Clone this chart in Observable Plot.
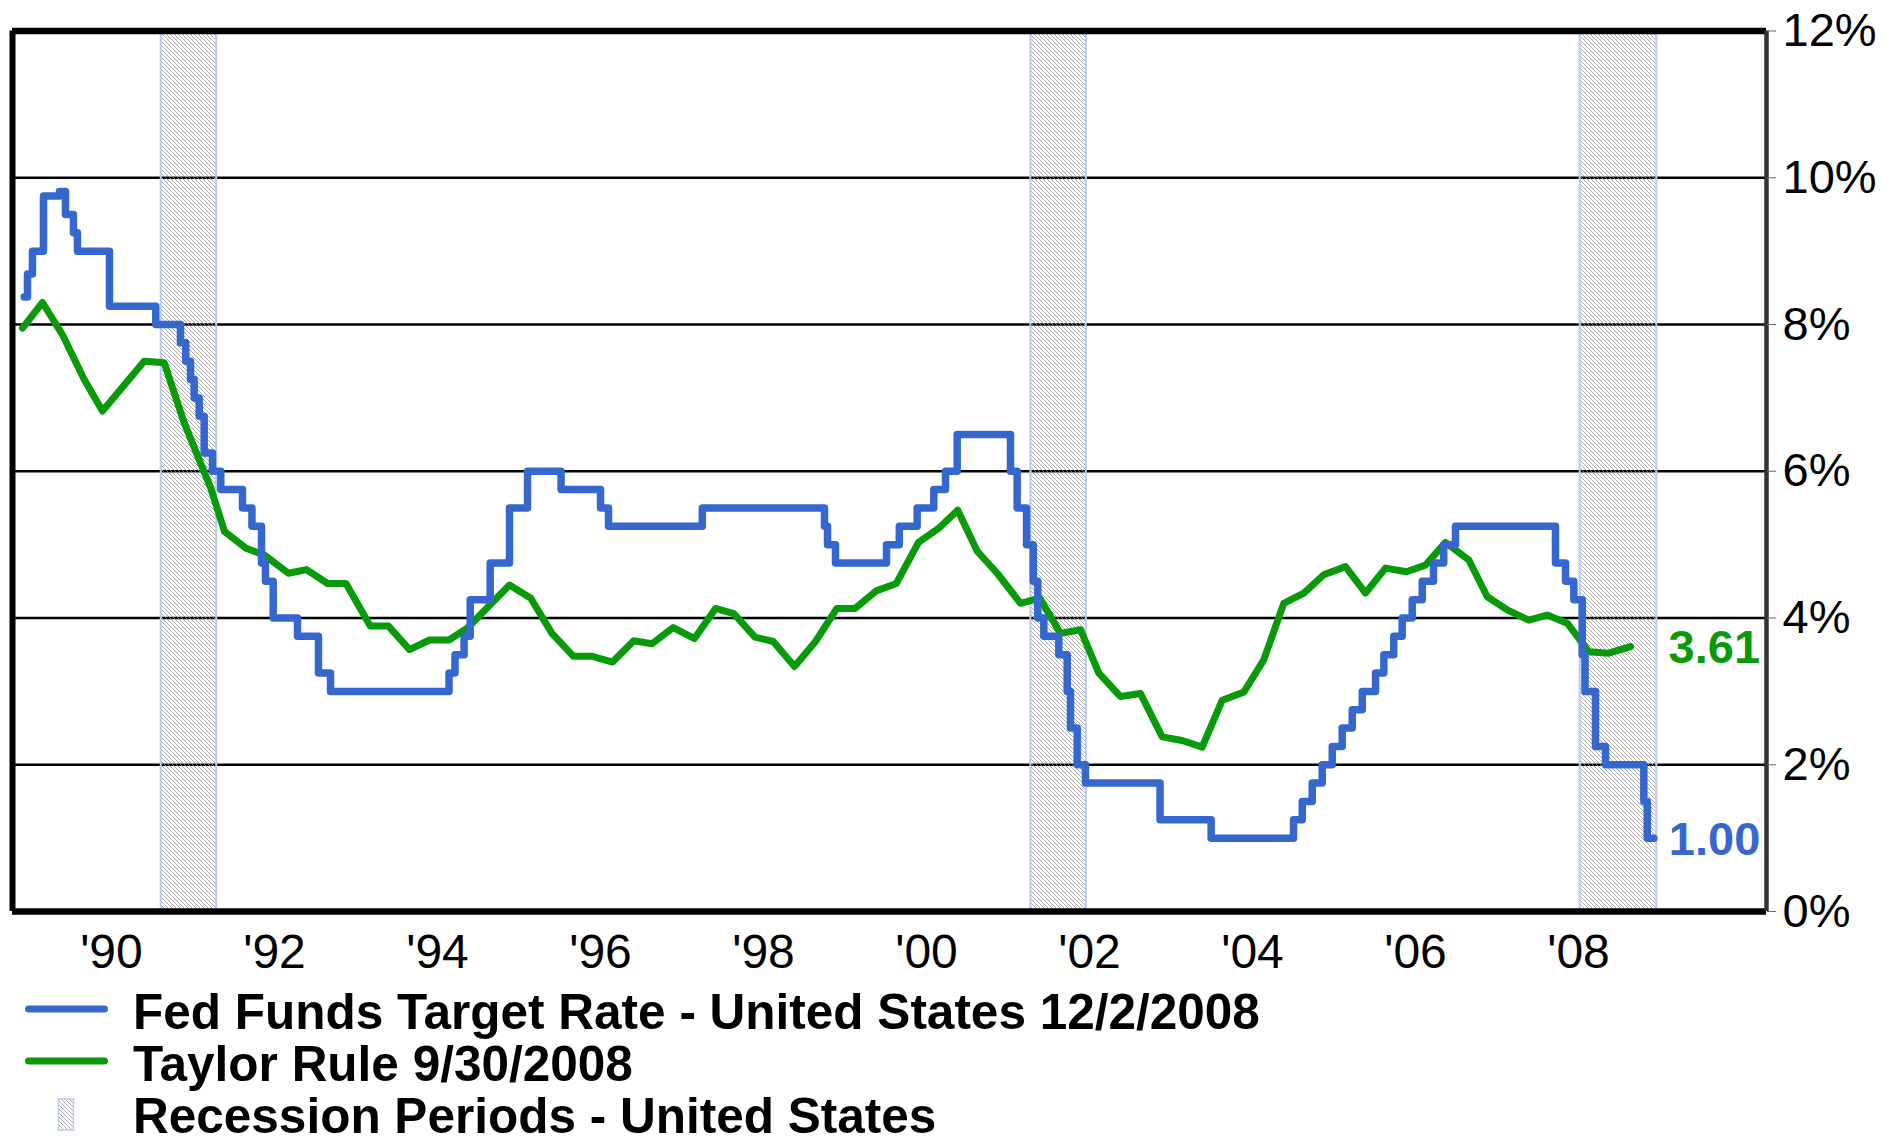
<!DOCTYPE html>
<html>
<head>
<meta charset="utf-8">
<script src="https://cdn.jsdelivr.net/npm/d3@7"></script>
<script src="https://cdn.jsdelivr.net/npm/@observablehq/plot@0.6"></script>
<style>
html, body { margin: 0; padding: 0; background: #fff; overflow: hidden; }
body { font-family: "Liberation Sans", Arial, sans-serif; width: 1900px; height: 1144px; }
#chart svg { display: block; }
.legend { position: relative; width: 1900px; }
.row { position: relative; height: 52px; font-size: 49.5px; font-weight: bold; color: #000; }
.row span { position: absolute; left: 133px; top: 1.85px; line-height: 44px; white-space: nowrap; }
.row svg { position: absolute; left: 0; }
</style>
</head>
<body>
<div id="chart"></div>
<div class="legend" id="legend"></div>
<script>
// ---- Data ----
// Fed Funds Target Rate: change points (decimal year, rate %)
const fedYears = [1988.818, 1988.859, 1988.920, 1989.055, 1989.252, 1989.325, 1989.423, 1989.472,
  1989.865, 1990.433, 1990.736, 1990.801, 1990.859, 1990.904, 1990.966, 1991.027, 1991.129, 1991.231,
  1991.497, 1991.613, 1991.730, 1991.779, 1991.874, 1992.172, 1992.429, 1992.577, 1994.031, 1994.104,
  1994.216, 1994.291, 1994.536, 1994.773, 1994.994, 1995.406, 1995.890, 1995.988, 1997.139, 1998.638,
  1998.675, 1998.773, 1999.399, 1999.556, 1999.775, 1999.979, 2000.123, 2000.266, 2000.920, 2001.002,
  2001.117, 2001.199, 2001.255, 2001.329, 2001.513, 2001.616, 2001.656, 2001.739, 2001.840, 2002.755,
  2003.382, 2004.393, 2004.500, 2004.622, 2004.745, 2004.868, 2004.990, 2005.113, 2005.236, 2005.399,
  2005.501, 2005.623, 2005.726, 2005.849, 2005.972, 2006.110, 2006.236, 2006.380, 2007.607, 2007.730,
  2007.832, 2007.935, 2007.969, 2008.098, 2008.221, 2008.691, 2008.733, 2008.814];
const fedRates = [8.375, 8.6875, 9.0, 9.75, 9.8125, 9.5, 9.25, 9.0,
  8.25, 8.0, 7.75, 7.5, 7.25, 7.0, 6.75, 6.25, 6.0, 5.75,
  5.5, 5.25, 4.75, 4.5, 4.0, 3.75, 3.25, 3.0, 3.25, 3.5,
  3.75, 4.25, 4.75, 5.5, 6.0, 5.75, 5.5, 5.25, 5.5, 5.25,
  5.0, 4.75, 5.0, 5.25, 5.5, 5.75, 6.0, 6.5, 6.0, 5.5,
  5.0, 4.5, 4.0, 3.75, 3.5, 3.0, 2.5, 2.0, 1.75, 1.25,
  1.0, 1.25, 1.5, 1.75, 2.0, 2.25, 2.5, 2.75, 3.0, 3.25,
  3.5, 3.75, 4.0, 4.25, 4.5, 4.75, 5.0, 5.25, 4.75, 4.5,
  4.25, 3.5, 3.0, 2.25, 2.0, 1.5, 1.0, 1.0];

// Taylor Rule (decimal year, rate %)
const taylorYears = [1988.798, 1989.043, 1989.288, 1989.555, 1989.779, 1990.291, 1990.536, 1990.782,
  1991.108, 1991.276, 1991.540, 1991.762, 1992.061, 1992.282, 1992.540, 1992.767, 1993.064, 1993.288,
  1993.546, 1993.791, 1994.031, 1994.254, 1994.773, 1995.034, 1995.294, 1995.555, 1995.779, 1996.037,
  1996.298, 1996.521, 1996.782, 1997.043, 1997.301, 1997.525, 1997.785, 1998.009, 1998.270, 1998.528,
  1998.790, 1999.012, 1999.273, 1999.519, 1999.791, 2000.037, 2000.273, 2000.512, 2000.757, 2001.043,
  2001.280, 2001.534, 2001.779, 2002.004, 2002.270, 2002.515, 2002.782, 2003.027, 2003.272, 2003.518,
  2003.783, 2004.028, 2004.273, 2004.519, 2004.764, 2005.031, 2005.276, 2005.521, 2005.779, 2006.012,
  2006.258, 2006.544, 2006.770, 2007.015, 2007.280, 2007.506, 2007.751, 2008.016, 2008.261, 2008.528];
const taylorRates = [7.95, 8.30, 7.86, 7.25, 6.82, 7.50, 7.48, 6.66,
  5.77, 5.18, 4.95, 4.86, 4.61, 4.66, 4.47, 4.47, 3.89, 3.89,
  3.57, 3.70, 3.70, 3.86, 4.45, 4.27, 3.79, 3.48, 3.48, 3.40,
  3.69, 3.65, 3.87, 3.72, 4.13, 4.06, 3.74, 3.68, 3.34, 3.68,
  4.13, 4.13, 4.37, 4.47, 5.03, 5.22, 5.47, 4.91, 4.61, 4.20,
  4.27, 3.79, 3.84, 3.25, 2.93, 2.97, 2.38, 2.33, 2.24, 2.88,
  2.99, 3.43, 4.20, 4.34, 4.59, 4.70, 4.34, 4.68, 4.63, 4.72,
  5.03, 4.79, 4.29, 4.11, 3.97, 4.04, 3.93, 3.54, 3.52, 3.61];

// Recession periods (decimal years)
const recessionStarts = [1990.50, 2001.17, 2007.91];
const recessionEnds = [1991.18, 2001.85, 2008.85];

// Axes
const xTicks = [1990, 1992, 1994, 1996, 1998, 2000, 2002, 2004, 2006, 2008];
const xTickLabels = ["'90", "'92", "'94", "'96", "'98", "'00", "'02", "'04", "'06", "'08"];
const yTicks = [0, 2, 4, 6, 8, 10, 12];
const yGrid = [2, 4, 6, 8, 10];

// Legend labels
const seriesNames = ["Fed Funds Target Rate - United States 12/2/2008", "Taylor Rule 9/30/2008", "Recession Periods - United States"];

const BLUE = "#3567cf";
const GREEN = "#089a08";
const BAND = "#b9c9ef";
const HATCH = "#8f8f8f";
const FONT = '"Liberation Sans", Arial, sans-serif';

// ---- Build tables ----
const fed = fedYears.map((x, i) => ({x, y: fedRates[i]}));
const taylor = taylorYears.map((x, i) => ({x, y: taylorRates[i]}));
const recessions = recessionStarts.map((s, i) => ({start: s, end: recessionEnds[i]}));
const fedLast = fed[fed.length - 1];
const taylorLast = taylor[taylor.length - 1];

const plot = Plot.plot({
  width: 1900,
  height: 988,
  marginLeft: 12,
  marginRight: 134,
  marginTop: 30.5,
  marginBottom: 77,
  style: {fontFamily: FONT, background: "transparent", color: "#000"},
  x: {domain: [1988.675, 2010.196], label: null},
  y: {domain: [0, 12], label: null},
  marks: [
    Plot.ruleY(yGrid, {stroke: "#000", strokeWidth: 2.5}),
    Plot.rect(recessions, {x1: "start", x2: "end", fill: "url(#hatch)", stroke: BAND, strokeWidth: 2}),
    Plot.line(taylor, {x: "x", y: "y", stroke: GREEN, strokeWidth: 7, strokeLinejoin: "round", strokeLinecap: "round"}),
    Plot.line(fed, {x: "x", y: "y", curve: "step-after", stroke: BLUE, strokeWidth: 7.5, strokeLinejoin: "round", strokeLinecap: "round"}),
    Plot.ruleY([0, 12], {stroke: "#000", strokeWidth: 6.5}),
    Plot.ruleX([1988.675], {stroke: "#000", strokeWidth: 6}),
    Plot.ruleX([2010.196], {stroke: "#333", strokeWidth: 4.5}),
    Plot.axisY(yTicks, {anchor: "right", tickSize: 9, tickPadding: 7, stroke: "#666", tickFormat: d => d + "%", fontSize: 47, fill: "#000"}),
    Plot.axisX(xTicks, {anchor: "bottom", tickSize: 0, tickPadding: 22, tickFormat: d => xTickLabels[xTicks.indexOf(d)], fontSize: 48, dx: -9, fill: "#000"}),
    Plot.text([taylorLast], {x: "x", y: "y", text: d => d.y.toFixed(2), dx: 38, dy: 1, textAnchor: "start", fill: GREEN, fontSize: 47, fontWeight: "bold"}),
    Plot.text([fedLast], {x: "x", y: "y", text: d => d.y.toFixed(2), dx: 15, dy: 2, textAnchor: "start", fill: BLUE, fontSize: 47, fontWeight: "bold"})
  ]
});

d3.select(plot).insert("defs", ":first-child").html(
  '<pattern id="hatch" patternUnits="userSpaceOnUse" width="4" height="4">' +
  '<path d="M-1,3 l2,2 M0,0 l4,4 M3,-1 l2,2" stroke="' + HATCH + '" stroke-width="0.75" fill="none"/></pattern>'
);
document.getElementById("chart").appendChild(plot);

// ---- Legend ----
const legend = d3.select("#legend");
const swatchColors = [BLUE, GREEN];
seriesNames.forEach((name, i) => {
  const row = legend.append("div").attr("class", "row");
  const sw = row.append("svg").attr("width", 120);
  if (i < 2) {
    sw.attr("height", 12).style("top", "15px");
    sw.append("line").attr("x1", 28.5).attr("x2", 104.5).attr("y1", 6).attr("y2", 6)
      .attr("stroke", swatchColors[i]).attr("stroke-width", 7).attr("stroke-linecap", "round");
  } else {
    sw.attr("height", 34).style("top", "6px");
    sw.append("defs").html('<pattern id="hatch2" patternUnits="userSpaceOnUse" width="4" height="4">' +
      '<path d="M-1,3 l2,2 M0,0 l4,4 M3,-1 l2,2" stroke="' + HATCH + '" stroke-width="0.75" fill="none"/></pattern>');
    sw.append("rect").attr("x", 58.5).attr("y", 1).attr("width", 15).attr("height", 31)
      .attr("fill", "url(#hatch2)").attr("stroke", BAND).attr("stroke-width", 1.5);
  }
  row.append("span").text(name);
});
</script>
</body>
</html>
